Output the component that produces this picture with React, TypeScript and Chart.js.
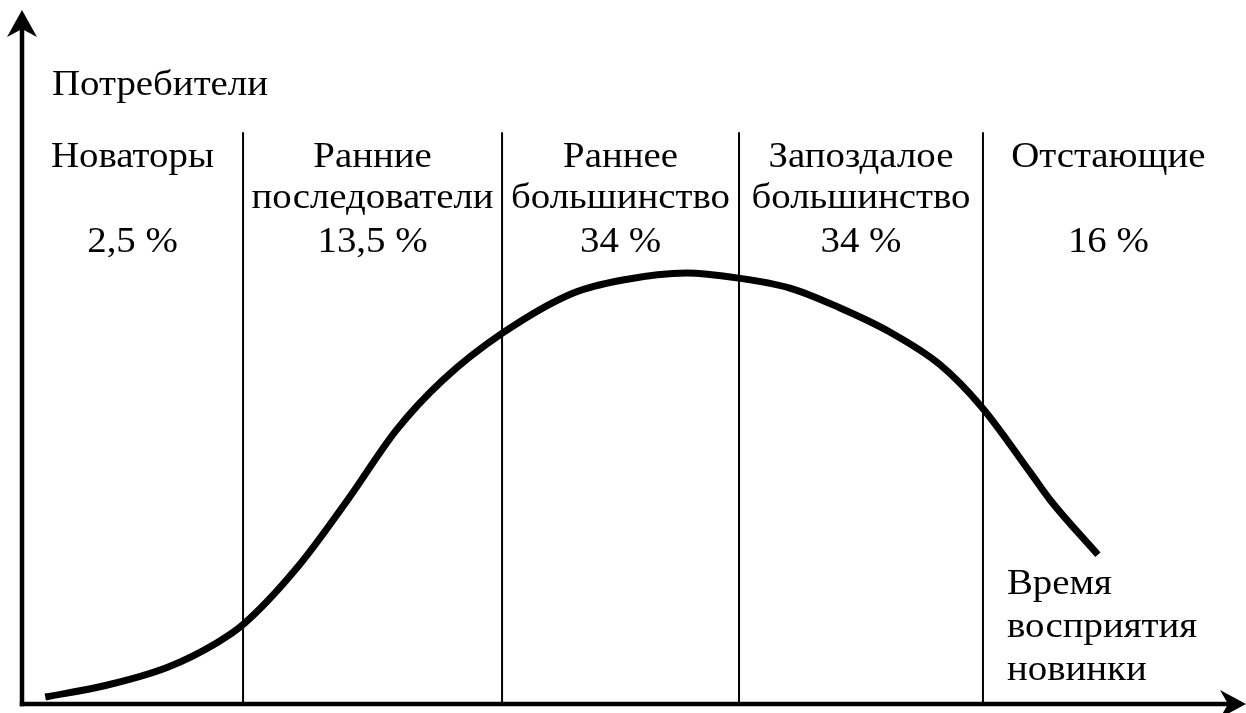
import React, { useEffect, useRef } from "react";
import { Chart, registerables } from "chart.js";

Chart.register(...registerables);

// Diffusion-of-innovations curve (time units 0..100, consumers 0..100)
const curveX = [1.9, 6.9, 11.9, 15.9, 18.1, 22.5, 26.6, 30.6, 34.4, 39.3, 45.0, 49.1, 54.3, 58.4, 62.8, 66.8, 70.9, 75.0, 78.4, 82.4, 84.0, 87.9];
const curveY = [1.0, 2.7, 5.3, 8.8, 11.5, 19.7, 29.4, 39.5, 46.7, 53.5, 59.2, 61.1, 62.1, 61.4, 59.9, 57.1, 53.6, 48.9, 42.8, 33.3, 29.4, 21.5];

// Segment boundaries on the time axis
const boundaries = [18.06, 39.22, 58.58, 78.51];
const boundaryTop = 82.4;
const lastSegmentEnd = 99.0;

const segmentNames = [
  ["Новаторы"],
  ["Ранние", "последователи"],
  ["Раннее", "большинство"],
  ["Запоздалое", "большинство"],
  ["Отстающие"],
];
const segmentShares = ["2,5 %", "13,5 %", "34 %", "34 %", "16 %"];

const yAxisTitle = "Потребители";
const xAxisTitle = ["Время", "восприятия", "новинки"];

const FONT = "35px 'Liberation Serif', 'Times New Roman', serif";
const TEXT_STRETCH = 1.11;

export default function App() {
  const ref = useRef<HTMLCanvasElement | null>(null);

  useEffect(() => {
    if (!ref.current) return;

    const drawText = (ctx: CanvasRenderingContext2D, t: string, x: number, y: number) => {
      ctx.save();
      ctx.translate(x, y);
      ctx.scale(TEXT_STRETCH, 1);
      ctx.fillText(t, 0, 0);
      ctx.restore();
    };

    const overlay = {
      id: "overlay",
      afterDraw(chart: any) {
        const ctx = chart.ctx as CanvasRenderingContext2D;
        const xs = chart.scales.x;
        const ys = chart.scales.y;
        const x0 = xs.getPixelForValue(0);
        const y0 = ys.getPixelForValue(0);
        const xEnd = xs.getPixelForValue(xs.max);
        const yEnd = ys.getPixelForValue(ys.max);
        ctx.save();
        ctx.strokeStyle = "#000";
        ctx.fillStyle = "#000";
        ctx.lineWidth = 4.5;
        ctx.lineCap = "butt";
        // axes
        ctx.beginPath();
        ctx.moveTo(x0, y0 + 2.2);
        ctx.lineTo(x0, yEnd + 16);
        ctx.stroke();
        ctx.beginPath();
        ctx.moveTo(x0 - 2.2, y0);
        ctx.lineTo(xEnd - 16, y0);
        ctx.stroke();
        // arrowheads
        ctx.beginPath();
        ctx.moveTo(x0, yEnd);
        ctx.lineTo(x0 - 15, yEnd + 27);
        ctx.lineTo(x0, yEnd + 19);
        ctx.lineTo(x0 + 15, yEnd + 27);
        ctx.closePath();
        ctx.fill();
        ctx.beginPath();
        ctx.moveTo(xEnd, y0);
        ctx.lineTo(xEnd - 26, y0 - 14);
        ctx.lineTo(xEnd - 18, y0);
        ctx.lineTo(xEnd - 26, y0 + 14);
        ctx.closePath();
        ctx.fill();

        // texts
        ctx.font = FONT;
        ctx.textBaseline = "alphabetic";
        ctx.textAlign = "left";
        drawText(ctx, yAxisTitle, xs.getPixelForValue(2.45), ys.getPixelForValue(87.75));
        const edges = [0, ...boundaries, lastSegmentEnd];
        ctx.textAlign = "center";
        segmentNames.forEach((lines, i) => {
          const cx = xs.getPixelForValue((edges[i] + edges[i + 1]) / 2);
          lines.forEach((t, j) => {
            drawText(ctx, t, cx, ys.getPixelForValue(77.4 - j * 5.9));
          });
          drawText(ctx, segmentShares[i], cx, ys.getPixelForValue(65.1));
        });
        ctx.textAlign = "left";
        xAxisTitle.forEach((t, j) => {
          drawText(ctx, t, xs.getPixelForValue(80.47), ys.getPixelForValue(15.85 - j * 6.2));
        });
        ctx.restore();
      },
    };

    const datasets: any[] = [
      {
        data: curveX.map((x, i) => ({ x, y: curveY[i] })),
        showLine: true,
        borderColor: "#000",
        borderWidth: 7,
        borderCapStyle: "butt",
        pointRadius: 0,
        cubicInterpolationMode: "monotone",
        fill: false,
      },
      ...boundaries.map((b) => ({
        data: [
          { x: b, y: 0 },
          { x: b, y: boundaryTop },
        ],
        showLine: true,
        borderColor: "#000",
        borderWidth: 2,
        pointRadius: 0,
        fill: false,
      })),
    ];

    const chart = new Chart(ref.current, {
      type: "scatter",
      data: { datasets },
      options: {
        animation: false,
        responsive: false,
        maintainAspectRatio: false,
        layout: { padding: { left: 22, right: 0, top: 10, bottom: 9 } },
        plugins: { legend: { display: false }, tooltip: { enabled: false } },
        scales: {
          x: { type: "linear", min: 0, max: 100, display: false },
          y: { type: "linear", min: 0, max: 100, display: false },
        },
      },
      plugins: [overlay],
    });
    return () => chart.destroy();
  }, []);

  return (
    <div style={{ position: "fixed", left: 0, top: 0, width: 1246, height: 713, background: "#fff" }}>
      <canvas ref={ref} width={1246} height={713} style={{ display: "block" }} />
    </div>
  );
}
